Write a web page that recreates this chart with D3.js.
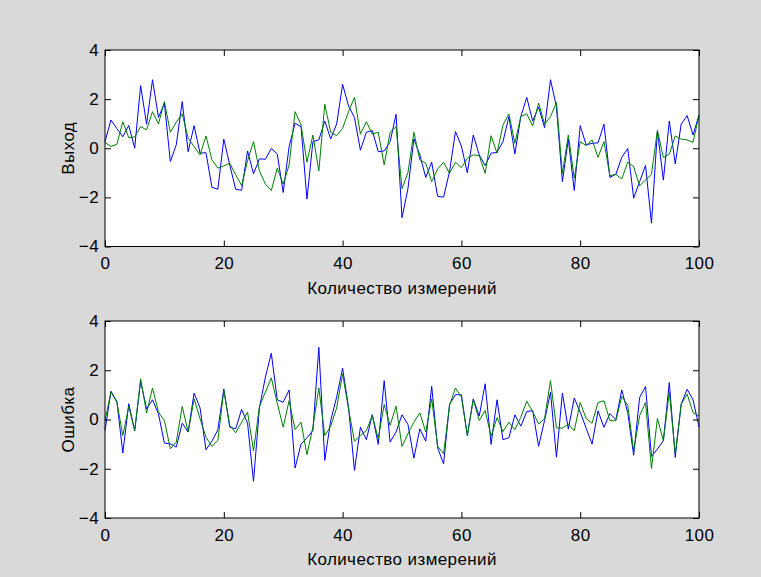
<!DOCTYPE html>
<html>
<head>
<meta charset="utf-8">
<script src="https://cdn.jsdelivr.net/npm/d3@7"></script>
<style>
  body { margin: 0; background: #d9d9d9; }
  svg { display: block; }
  text { font-family: "Liberation Sans", Arial, sans-serif; letter-spacing: 0.4px; }
</style>
</head>
<body>
<div id="draw"></div>
<script>
// measurement index 0..100
const steps = d3.range(0, 101);

// top panel: output (blue) and model (green)
const outBlue = [0.27, 1.15, 0.8, 0.47, 0.93, 0.0, 2.55, 0.98, 2.79, 1.26, 1.83, -0.54, 0.14, 1.9, -0.14, 0.92, -0.2, -0.18, -1.59, -1.67,
  0.37, -0.68, -1.67, -1.71, -0.11, -1.04, -0.43, -0.45, -0.01, -0.23, -1.8, 0.07, 1.02, 0.88, -2.07, 0.27, 0.34, 1.11, 0.38, 0.99,
  2.6, 1.72, 1.25, -0.08, 0.65, 0.72, -0.14, -0.11, 0.27, 1.38, -2.83, -1.65, 0.38, -0.27, -1.19, -0.57, -1.96, -1.99, -0.95, 0.68,
  0.09, -1.0, 0.54, -0.27, -0.7, -0.2, -0.17, 0.27, 1.29, -0.23, 1.29, 2.07, 1.11, 1.68, 0.84, 2.79, 1.69, -1.36, 0.37, -1.72,
  0.92, 0.14, 0.2, 0.22, 0.98, -1.19, -1.06, -0.37, -0.01, -2.03, -1.36, -0.7, -3.05, 0.7, -1.3, 1.11, -0.64, 0.98, 1.33, 0.54, 1.35];
const outGreen = [0.24, 0.07, 0.16, 1.08, 0.43, 0.46, 0.88, 0.75, 1.49, 0.99, 1.9, 0.65, 1.06, 1.4, 0.41, 0.07, -0.27, 0.5, -0.47, -0.81,
  -0.72, -0.61, -1.08, -1.52, -0.51, 0.27, -0.92, -1.46, -1.72, -0.81, -1.46, -0.68, 1.49, 0.95, -0.57, 0.54, -0.92, 1.79, 0.65, 0.51,
  0.81, 1.49, 2.07, 0.57, 1.08, 0.58, 0.65, -0.68, 0.65, 0.88, -1.65, -0.99, 0.65, -0.47, -0.61, -1.36, -0.84, -0.57, -1.02, -0.57,
  -0.79, -0.41, -0.27, -0.3, -1.02, 0.51, -0.2, 0.95, 1.4, 0.2, 1.29, 1.4, 0.91, 1.84, 0.98, 1.29, 1.86, -1.02, 0.54, -1.22,
  0.27, 0.11, 0.34, -0.37, 0.27, -1.12, -1.06, -1.25, -0.57, -0.75, -1.53, -1.29, -1.06, 0.73, -0.38, -0.24, 0.5, 0.37, 0.34, 0.24, 1.35];

// bottom panel: errors
const errBlue = [-0.45, 1.15, 0.73, -1.36, 0.64, -0.45, 1.55, 0.43, 0.8, 0.23, -0.96, -0.99, -1.12, -0.15, -0.51, 1.07, 0.47, -1.23, -0.88, -0.42,
  1.24, -0.31, -0.38, 0.41, -0.15, -2.51, 0.47, 1.72, 2.69, 0.8, 0.7, 1.2, -1.97, -1.0, -0.74, -0.45, 2.93, -1.66, -0.04, 0.91,
  2.08, 0.5, -2.07, -0.31, -0.82, 0.2, -1.01, 1.58, -0.92, -0.51, 0.19, -0.2, -1.57, -0.38, -0.88, 1.35, -1.15, -1.8, 0.61, 1.01,
  1.0, -0.65, 0.84, 0.14, 1.45, -1.01, 0.8, -0.82, -0.74, 0.19, -0.27, 0.32, 0.36, -1.09, -0.04, 1.11, -1.53, 1.07, -0.39, 0.87,
  0.3, -0.35, -1.0, 0.35, -0.32, 0.24, -0.01, 1.2, 0.28, -1.45, 0.89, 1.34, -1.5, -1.2, -0.86, 1.5, -1.54, 0.62, 1.23, 0.8, -0.3];
const errGreen = [-0.05, 1.11, 0.7, -0.65, 0.53, -0.45, 1.65, 0.26, 1.28, 0.3, -0.04, -1.19, -0.92, 0.53, -0.51, 0.84, 0.03, -0.72, -1.09, -0.85,
  1.18, -0.24, -0.54, -0.11, 0.3, -1.28, 0.53, 1.11, 1.69, 0.66, -0.31, 0.77, -0.41, -0.11, -1.43, -0.31, 1.28, -0.65, -0.27, 0.47,
  1.85, 0.43, -0.88, -0.65, -0.45, 0.16, -0.78, 0.61, -0.24, 0.54, -1.09, -0.58, -0.11, 0.27, -0.51, 0.84, -1.08, -1.39, 0.57, 1.28,
  0.91, -0.65, 0.81, -0.04, 0.36, -0.68, 0.07, -0.49, -0.11, -0.41, 0.09, 0.74, 0.32, -0.18, 0.03, 1.58, -0.34, -0.35, -0.19, -0.46,
  0.69, 0.04, -0.15, 0.69, 0.76, -0.05, -0.05, 0.93, 0.58, -1.27, 0.15, 0.69, -1.99, 0.04, -0.86, 1.12, -1.4, 0.62, 1.03, 0.28, 0.15];

const xTicks = [0, 20, 40, 60, 80, 100];
const yTicks = [-4, -2, 0, 2, 4];
const xTitle = 'Количество измерений';

var W = 761, H = 577;
var svg = d3.select('#draw').append('svg').attr('width', W).attr('height', H);

svg.append('rect').attr('width', W).attr('height', H).attr('fill', '#d9d9d9');

// one subplot
function panel(top, bottom, yTitle, blue, green) {
  var left = 105, right = 699;
  var x = d3.scaleLinear().domain([0, 100]).range([left, right]);
  var y = d3.scaleLinear().domain([-4, 4]).range([bottom, top]);

  var g = svg.append('g');
  g.append('rect')
    .attr('x', left).attr('y', top)
    .attr('width', right - left).attr('height', bottom - top)
    .attr('fill', '#fff');

  var line = d3.line()
    .x(function (d, i) { return x(steps[i]); })
    .y(function (d) { return y(d); });

  g.append('path').datum(blue).attr('d', line)
    .attr('fill', 'none').attr('stroke', '#0000ff').attr('stroke-width', 1);
  g.append('path').datum(green).attr('d', line)
    .attr('fill', 'none').attr('stroke', '#008000').attr('stroke-width', 1);

  // axes with inward ticks (box on all four sides)
  var ax = [
    [d3.axisBottom(x).tickValues(xTicks).tickPadding(10.5), 'translate(0,' + bottom + ')'],
    [d3.axisTop(x).tickValues(xTicks).tickFormat(''), 'translate(0,' + top + ')'],
    [d3.axisLeft(y).tickValues(yTicks).tickPadding(6), 'translate(' + left + ',0)'],
    [d3.axisRight(y).tickValues(yTicks).tickFormat(''), 'translate(' + right + ',0)']
  ];
  ax.forEach(function (a) {
    var sel = g.append('g').attr('transform', a[1])
      .call(a[0].tickSize(-6));
    sel.select('.domain').remove();
    sel.selectAll('line').attr('stroke', '#000');
    sel.selectAll('text').attr('fill', '#000').style('font-size', '17px');
  });

  g.append('rect')
    .attr('x', left).attr('y', top)
    .attr('width', right - left).attr('height', bottom - top)
    .attr('fill', 'none').attr('stroke', '#000').attr('stroke-width', 1);

  g.append('text')
    .attr('x', (left + right) / 2).attr('y', bottom + 47)
    .attr('text-anchor', 'middle').style('font-size', '17px')
    .text(xTitle);

  g.append('text')
    .attr('transform', 'translate(73.5,' + (top + bottom) / 2 + ') rotate(-90)')
    .attr('text-anchor', 'middle').style('font-size', '17px')
    .text(yTitle);
}

panel(50, 246.5, 'Выход', outBlue, outGreen);
panel(321, 518, 'Ошибка', errBlue, errGreen);
</script>
</body>
</html>
